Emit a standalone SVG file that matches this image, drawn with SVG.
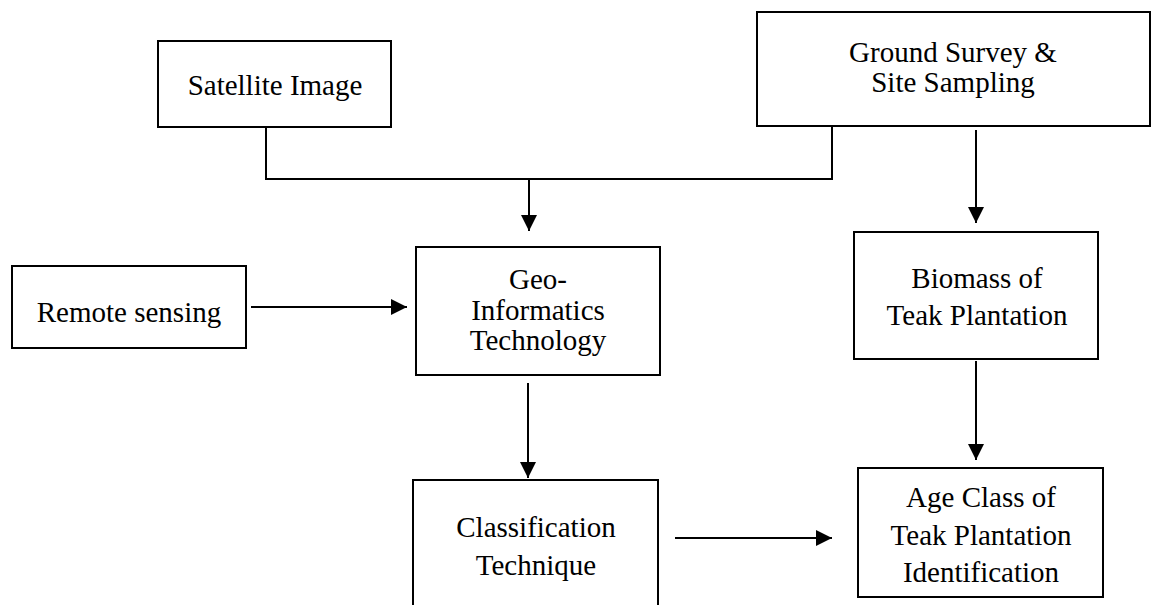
<svg xmlns="http://www.w3.org/2000/svg" width="1157" height="605" viewBox="0 0 1157 605">
<style>
.box{fill:#fff;stroke:#000;stroke-width:2}
.t{font-family:"Liberation Serif","Times New Roman","DejaVu Serif",serif;font-size:29px;fill:#000;text-anchor:middle}
.c{fill:none;stroke:#000;stroke-width:2}
</style>
<defs>
<marker id="ah" viewBox="0 0 16 16" refX="16" refY="8" markerWidth="16" markerHeight="16" markerUnits="userSpaceOnUse" orient="auto">
<path d="M0,0 L16,8 L0,16 Z" fill="#000"/>
</marker>
</defs>
<rect width="1157" height="605" fill="#fff"/>
<g id="connectors">
<polyline class="c" points="266,127 266,179 832,179 832,126"/>
<line class="c" x1="529" y1="179" x2="529" y2="231" marker-end="url(#ah)"/>
<line class="c" x1="976" y1="130" x2="976" y2="223" marker-end="url(#ah)"/>
<line class="c" x1="251" y1="307" x2="407" y2="307" marker-end="url(#ah)"/>
<line class="c" x1="528" y1="383" x2="528" y2="478" marker-end="url(#ah)"/>
<line class="c" x1="976" y1="361" x2="976" y2="460" marker-end="url(#ah)"/>
<line class="c" x1="675" y1="538" x2="832" y2="538" marker-end="url(#ah)"/>
</g>
<g id="satellite">
<rect class="box" x="158" y="41" width="233" height="86"/>
<text class="t" x="275" y="95">Satellite Image</text>
</g>
<g id="ground">
<rect class="box" x="757" y="12" width="393" height="114"/>
<text class="t" x="953" y="62">Ground Survey &amp;</text>
<text class="t" x="953" y="92">Site Sampling</text>
</g>
<g id="remote">
<rect class="box" x="12" y="266" width="234" height="82"/>
<text class="t" x="129" y="322">Remote sensing</text>
</g>
<g id="geo">
<rect class="box" x="416" y="247" width="244" height="128"/>
<text class="t" x="538" y="289">Geo-</text>
<text class="t" x="538" y="320">Informatics</text>
<text class="t" x="538" y="350">Technology</text>
</g>
<g id="biomass">
<rect class="box" x="854" y="232" width="244" height="127"/>
<text class="t" x="977" y="288">Biomass of</text>
<text class="t" x="977" y="325">Teak Plantation</text>
</g>
<g id="classification">
<rect class="box" x="413" y="480" width="245" height="140"/>
<text class="t" x="536" y="537">Classification</text>
<text class="t" x="536" y="575">Technique</text>
</g>
<g id="ageclass">
<rect class="box" x="858" y="468" width="245" height="129"/>
<text class="t" x="981" y="507">Age Class of</text>
<text class="t" x="981" y="545">Teak Plantation</text>
<text class="t" x="981" y="582">Identification</text>
</g>
</svg>
